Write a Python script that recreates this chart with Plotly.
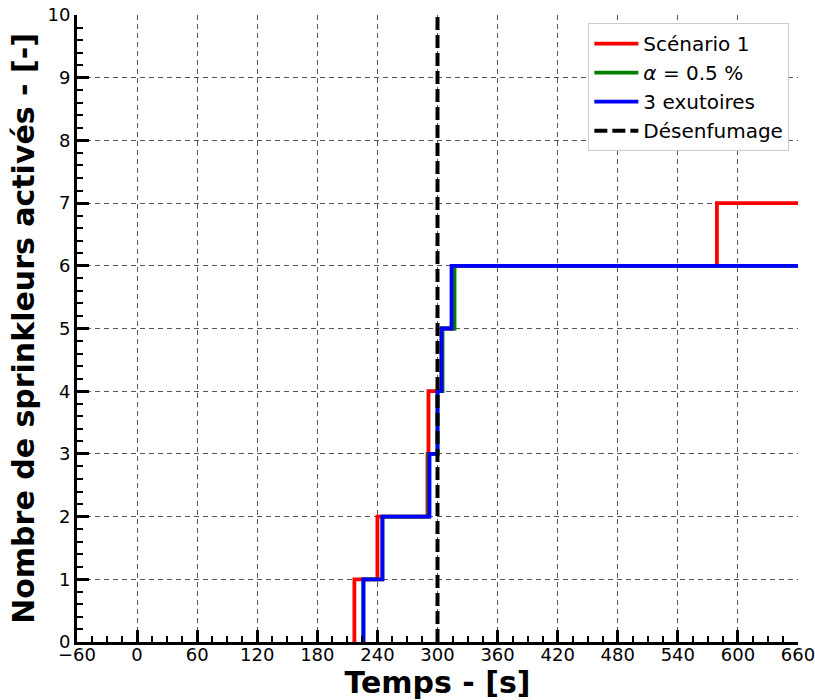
import plotly.graph_objects as go

# Data (step functions: time [s] -> number of activated sprinklers)
t_scen1 = [217, 217, 240, 290, 291, 304, 316, 579, 660]
n_scen1 = [0, 1, 2, 3, 4, 5, 6, 7, 7]

t_alpha = [226, 226, 245, 291, 300, 305, 317, 660]
n_alpha = [0, 1, 2, 3, 4, 5, 6, 6]

t_exut = [226, 226, 245, 292, 300, 304, 314, 660]
n_exut = [0, 1, 2, 3, 4, 5, 6, 6]

t_desenf = [300, 300]
n_desenf = [0, 10]

x_ticks = [-60, 0, 60, 120, 180, 240, 300, 360, 420, 480, 540, 600, 660]
y_ticks = list(range(0, 11))

FONT = "DejaVu Sans"

fig = go.Figure()
fig.add_trace(go.Scatter(x=t_scen1, y=n_scen1, mode="lines", line_shape="hv",
                         line=dict(color="#ff0000", width=3.8), name="Scénario 1"))
fig.add_trace(go.Scatter(x=t_alpha, y=n_alpha, mode="lines", line_shape="hv",
                         line=dict(color="#008000", width=3.8), name="<i>α</i> = 0.5 %"))
fig.add_trace(go.Scatter(x=t_exut, y=n_exut, mode="lines", line_shape="hv",
                         line=dict(color="#0000ff", width=3.8), name="3 exutoires"))
fig.add_trace(go.Scatter(x=t_desenf, y=n_desenf, mode="lines",
                         line=dict(color="black", width=4, dash="13px,5px"), name="Désenfumage"))

axis_common = dict(
    showline=True, linecolor="black", linewidth=3,
    ticks="inside", ticklen=12, tickwidth=2.5, tickcolor="black",
    showgrid=True, gridcolor="#555", gridwidth=1, griddash="5px,4px",
    zeroline=False, automargin=False, ticklabeloverflow="allow",
    tickfont=dict(family=FONT, size=18, color="black"),
)

fig.update_xaxes(
    range=[-60, 660], tickvals=x_ticks, ticktext=[str(v).replace("-", "−") for v in x_ticks],
    minor=dict(dtick=15, tick0=0, ticks="inside", ticklen=6, tickwidth=1.5, tickcolor="black", showgrid=False),
    ticklabelstandoff=-6,
    title=dict(text="<b>Temps - [s]</b>", font=dict(family=FONT, size=30, color="black"), standoff=2),
    **axis_common,
)
fig.update_yaxes(
    range=[0, 10], tickvals=y_ticks,
    minor=dict(dtick=0.2, tick0=0, ticks="inside", ticklen=6, tickwidth=1.5, tickcolor="black", showgrid=False),
    title=dict(text="<b>Nombre de sprinkleurs activés - [-]</b>", font=dict(family=FONT, size=30, color="black"), standoff=4),
    **axis_common,
)

# mirrored ticks on top and right (no lines, no labels)
fig.update_layout(
    xaxis2=dict(overlaying="x", matches="x", side="top", showline=False, showgrid=False,
                zeroline=False, showticklabels=False, ticks="inside", ticklen=6, tickwidth=1.5,
                tickcolor="#888", tickvals=x_ticks, range=[-60, 660]),
    yaxis2=dict(overlaying="y", matches="y", side="right", showline=False, showgrid=False,
                zeroline=False, showticklabels=False, ticks="inside", ticklen=6, tickwidth=1.5,
                tickcolor="#888", tickvals=y_ticks, range=[0, 10]),
)

fig.update_layout(
    width=815, height=700,
    margin=dict(l=77, r=17, t=15, b=58),
    plot_bgcolor="white", paper_bgcolor="white",
    font=dict(family=FONT, color="black"),
    legend=dict(x=0.988, y=0.987, xanchor="right", yanchor="top",
                bgcolor="white", bordercolor="#cccccc", borderwidth=1,
                font=dict(family=FONT, size=20, color="black"),
                itemwidth=44),
    showlegend=True,
)

# remove the default 8px page margin so the figure fills the window exactly
fig.write_html("out.html", config={"displayModeBar": False},
               post_script="document.body.style.margin='0';")
